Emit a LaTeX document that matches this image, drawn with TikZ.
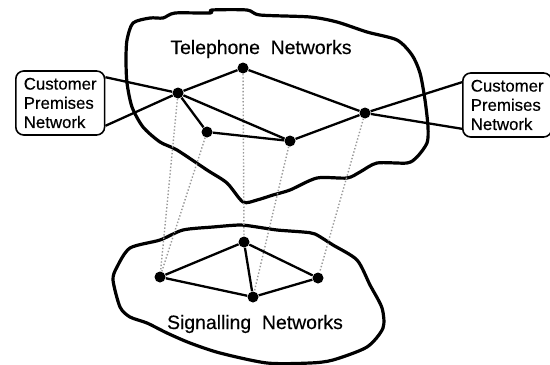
\documentclass[tikz,border=0pt]{standalone}
\usepackage{fontspec}
\setmainfont{Liberation Sans}[FakeBold=0.4]

\begin{document}
\begin{tikzpicture}[x=0.5pt, y=-0.5pt,
  point/.style={circle, fill, inner sep=0pt, minimum size=5.5pt},
  lien/.style={line width=1.15pt},
  signal/.style={densely dotted, gray!80, line width=0.7pt},
  nuage/.style={line width=1.6pt, line join=round},
  client/.style={draw, line width=0.8pt, rounded corners=4pt, align=left,
    inner xsep=4pt, inner ysep=2pt, minimum height=32pt, anchor=west,
    font=\fontsize{8.4}{9.6}\selectfont},
  titre/.style={font=\fontsize{9.7}{11}\selectfont}]
  \useasboundingbox (0,0) rectangle (550,364);

  % Contour du réseau téléphonique
  \draw[nuage] plot[smooth cycle, tension=0.45] coordinates {
    (127,40) (133,23) (150,18) (163,18) (175,13) (210,13) (212,10) (247,10)
    (260,15) (310,17) (337,22) (367,32) (397,40) (412,55) (420,73) (425,100)
    (428,127) (427,143) (417,157) (407,163) (377,163) (360,172) (347,178)
    (317,178) (290,190) (273,195) (257,200) (243,202) (227,183) (207,170)
    (177,150) (160,142) (143,127) (132,107) (127,83) (126,60)};

  % Contour du réseau de signalisation
  \draw[nuage] plot[smooth cycle, tension=0.45] coordinates {
    (160,240) (183,230) (213,227) (240,225) (257,227) (277,230) (303,232)
    (315,234) (333,245) (357,260) (370,285) (382,308) (383,328) (367,347)
    (333,360) (310,363) (267,363) (220,353) (190,343) (167,333) (147,323)
    (130,317) (120,307) (113,280) (117,267) (130,248)};

  % Titres des deux réseaux
  \node[titre] (tel) at (261,49) {Telephone~~Networks};
  \node[titre] (sig) at (255,324) {Signalling~~Networks};

  % Commutateurs du réseau téléphonique
  \foreach \n/\x/\y in {t1/178/93, t2/243/68, t3/207/132, t4/290/141, t5/365/113} {
    \node[point] (\n) at (\x,\y) {};
  }

  % Points de signalisation
  \foreach \n/\x/\y in {s1/160/277, s2/244/242, s3/253/297, s4/318/278} {
    \node[point] (\n) at (\x,\y) {};
  }

  % Liaisons vers la signalisation
  \foreach \a/\b in {t1/s1, t3/s1, t2/s2, t4/s3, t5/s4} {
    \draw[signal] (\a) -- (\b);
  }

  % Liaisons téléphoniques
  \foreach \a/\b in {t1/t2, t2/t5, t1/t3, t1/t4, t3/t4, t4/t5} {
    \draw[lien] (\a) -- (\b);
  }

  % Liaisons de signalisation
  \foreach \a/\b in {s1/s2, s1/s3, s2/s3, s2/s4, s3/s4} {
    \draw[lien] (\a) -- (\b);
  }

  % Réseaux des abonnés
  \node[client] (cpL) at (15,103) {Customer\\Premises\\Network};
  \node[client] (cpR) at (462,105) {Customer\\Premises\\Network};

  \draw[lien] ([yshift=-3.5pt]cpL.north east) -- (t1);
  \draw[lien] ([yshift=5pt]cpL.south east) -- (t1);
  \draw[lien] ([yshift=-5pt]cpR.north west) -- (t5);
  \draw[lien] ([yshift=4.5pt]cpR.south west) -- (t5);
\end{tikzpicture}
\end{document}
